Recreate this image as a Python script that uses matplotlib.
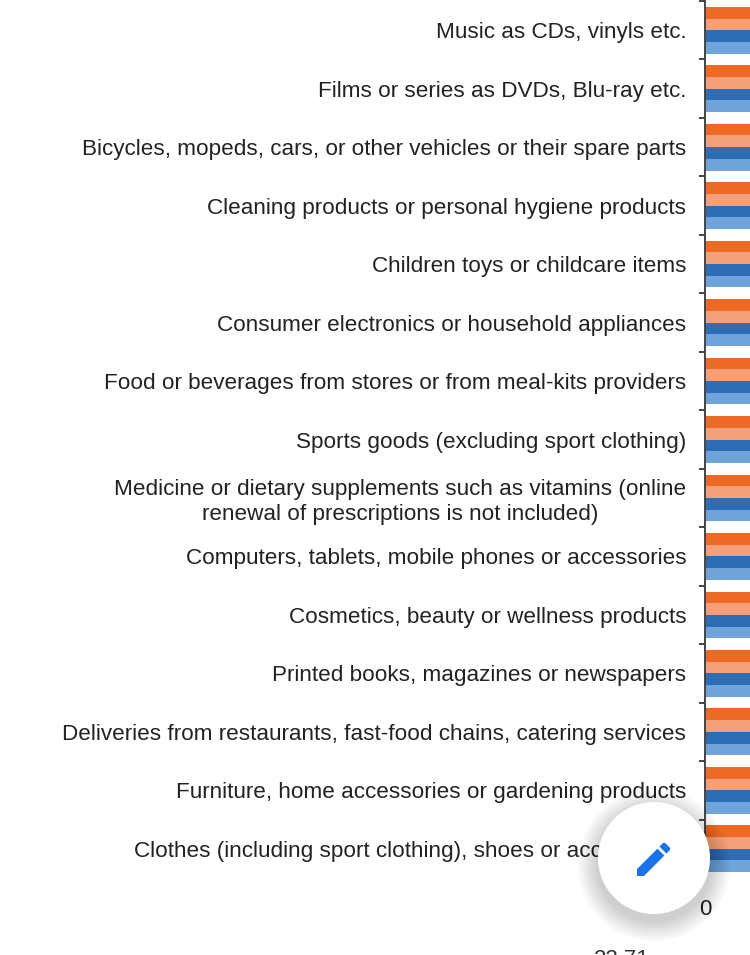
import matplotlib
matplotlib.use("Agg")
import matplotlib.pyplot as plt
import numpy as np
from matplotlib.patches import Circle, Polygon

plt.rcParams['font.family'] = ['Liberation Sans', 'DejaVu Sans']

categories = [
    "Music as CDs, vinyls etc.",
    "Films or series as DVDs, Blu-ray etc.",
    "Bicycles, mopeds, cars, or other vehicles or their spare parts",
    "Cleaning products or personal hygiene products",
    "Children toys or childcare items",
    "Consumer electronics or household appliances",
    "Food or beverages from stores or from meal-kits providers",
    "Sports goods (excluding sport clothing)",
    "Medicine or dietary supplements such as vitamins (online\nrenewal of prescriptions is not included)",
    "Computers, tablets, mobile phones or accessories",
    "Cosmetics, beauty or wellness products",
    "Printed books, magazines or newspapers",
    "Deliveries from restaurants, fast-food chains, catering services",
    "Furniture, home accessories or gardening products",
    "Clothes (including sport clothing), shoes or accessories",
]
# Bars are cut off by the screenshot edge; values estimated (all exceed visible range)
series_1 = [6, 7, 9, 10, 11, 14, 15, 16, 17, 19, 21, 22, 25, 27, 40]
series_2 = [7, 8, 10, 11, 12, 15, 14, 17, 18, 20, 22, 23, 26, 28, 42]
series_3 = [5, 6, 8, 9, 10, 13, 13, 15, 16, 18, 20, 21, 23, 25, 38]
series_4 = [6, 7, 9, 10, 11, 14, 15, 16, 17, 19, 21, 22, 24, 26, 39]
series_colors = ["#EE6A24", "#F5A07A", "#2D6DB5", "#6FA3DC"]
x_tick_labels = ["0"]

W, H = 750, 955
fig = plt.figure(figsize=(W / 100, H / 100), dpi=100)
fig.patch.set_facecolor("white")

ax_left = 705 / W
ax_bottom = 1 - 878 / H
ax_height = (878 - 1) / H
ax_width = (1700 - 705) / W
ax = fig.add_axes([ax_left, ax_bottom, ax_width, ax_height])

n = len(categories)
y = np.arange(n)
offsets = [-0.3, -0.1, 0.1, 0.3]
for vals, off, col in zip([series_1, series_2, series_3, series_4], offsets, series_colors):
    ax.barh(y + off, vals, height=0.2, color=col, edgecolor="none")

ax.set_ylim(n - 0.5, -0.5)
ax.set_xlim(0, 50)
ax.set_yticks(y)
ax.set_yticklabels(categories, fontsize=16.2, color="#222222", multialignment="center",
                   linespacing=1.2)
ax.tick_params(axis="y", which="major", length=0, pad=13.5)
ax.set_yticks(np.arange(-0.5, n, 1.0), minor=True)
ax.tick_params(axis="y", which="minor", length=4.5, width=1.4, color="#444444", direction="out")
ax.set_xticks([0])
ax.set_xticklabels(x_tick_labels, fontsize=16, color="#222222")
ax.tick_params(axis="x", length=0, pad=15)
for s in ["top", "right", "bottom"]:
    ax.spines[s].set_visible(False)
ax.spines["left"].set_color("#444444")
ax.spines["left"].set_linewidth(1.4)

# partially visible text at bottom edge (cut off in the reference screenshot)
fig.text(622 / W, 1 - 949 / H, "22.71", fontsize=16, color="#333333", ha="center", va="top")

# floating edit button overlay
ov = fig.add_axes([0, 0, 1, 1], zorder=10)
ov.set_xlim(0, W)
ov.set_ylim(H, 0)
ov.axis("off")
ov.patch.set_alpha(0)
cx, cy, r = 654, 858, 56
for i in range(16, 0, -1):
    ov.add_patch(Circle((cx, cy + 7), r + i * 1.3, facecolor="black", alpha=0.011, edgecolor="none"))
ov.add_patch(Circle((cx, cy), r, facecolor="white", edgecolor="none"))

# Material "edit" icon, 24-unit grid mapped to pixels
sc = 1.85
def ic(u, v):
    return (637 + (u - 3) * sc, 876 - (21 - v) * sc)
body = [ic(3, 17.25), ic(3, 21), ic(6.75, 21), ic(17.81, 9.94), ic(14.06, 6.19)]
eraser = [ic(20.71, 7.04), ic(21.0, 6.33), ic(20.71, 5.63), ic(18.37, 3.29), ic(17.66, 3.0),
          ic(16.96, 3.29), ic(15.13, 5.12), ic(18.88, 8.87)]
ov.add_patch(Polygon(body, closed=True, facecolor="#1A73E8", edgecolor="none"))
ov.add_patch(Polygon(eraser, closed=True, facecolor="#1A73E8", edgecolor="none"))

fig.savefig("out.png", dpi=100, facecolor="white")
